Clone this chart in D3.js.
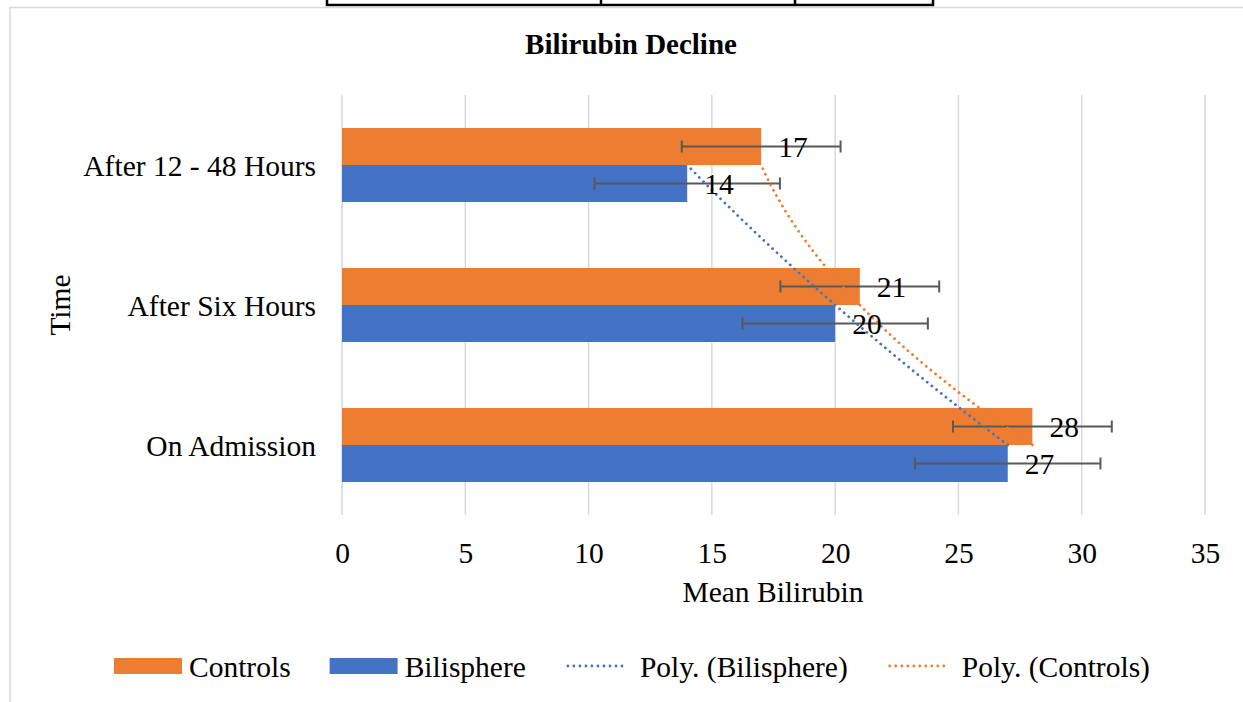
<!DOCTYPE html>
<html>
<head>
<meta charset="utf-8">
<script src="https://cdn.jsdelivr.net/npm/d3@7"></script>
<style>
  html, body { margin: 0; padding: 0; background: #fff; }
  svg { display: block; }
  text { font-family: "Liberation Serif", "Times New Roman", serif; fill: #000; }
</style>
</head>
<body>
<svg id="chart" width="1243" height="702"></svg>
<script>
// ---- data ----
const categories = ["On Admission", "After Six Hours", "After 12 - 48 Hours"];
const controls = [28, 21, 17];
const bilisphere = [27, 20, 14];
const controlsErr = [3.22, 3.22, 3.22];
const bilisphereErr = [3.76, 3.76, 3.76];
const xTicks = [0, 5, 10, 15, 20, 25, 30, 35];
const seriesNames = ["Controls", "Bilisphere"];
const legendLabels = ["Controls", "Bilisphere", "Poly. (Bilisphere)", "Poly. (Controls)"];
const title = "Bilirubin Decline";
const xTitle = "Mean Bilirubin";
const yTitle = "Time";

const colors = { Controls: "#ED7D31", Bilisphere: "#4472C4" };
const FS = 29.5;

const svg = d3.select("#chart");

// table fragment at top & chart border
const tbl = svg.append("g").attr("stroke", "#000").attr("stroke-width", 2.5).attr("fill", "none");
tbl.append("path").attr("d", "M327,0 V5 H933 V0 M601,0 V5 M795,0 V5");
const border = svg.append("g").attr("stroke", "#d9d9d9").attr("stroke-width", 1.5).attr("fill", "none");
border.append("path").attr("d", "M10,702 V7.5 H1243");

// scales
const x = d3.scaleLinear().domain([0, 35]).range([342, 1205]);
const yOrder = categories.slice().reverse(); // top to bottom
const y = d3.scaleBand().domain(yOrder).range([95, 515]).paddingInner(0).paddingOuter(0);
const barH = 37;

// gridlines
const grid = svg.append("g");
grid.selectAll("line").data(xTicks).join("line")
  .attr("x1", d => x(d)).attr("x2", d => x(d))
  .attr("y1", 95).attr("y2", 515)
  .attr("stroke", "#d9d9d9").attr("stroke-width", 1.5);

// x axis labels via d3 axis
const xAxis = svg.append("g").attr("transform", "translate(0,515)")
  .call(d3.axisBottom(x).tickValues(xTicks).tickSize(0).tickPadding(0));
xAxis.select(".domain").remove();
xAxis.selectAll("text").attr("font-size", FS).attr("font-family", "Liberation Serif")
  .attr("fill", "#000").attr("dy", null).attr("y", 48);

// y axis labels
const yAxis = svg.append("g").attr("transform", "translate(342,0)")
  .call(d3.axisLeft(y).tickSize(0).tickPadding(0));
yAxis.select(".domain").remove();
yAxis.selectAll("text").attr("font-size", FS).attr("font-family", "Liberation Serif")
  .attr("fill", "#000").attr("dy", null).attr("x", -26).attr("y", 10.5);

// bars
const rows = categories.map((c, i) => ({
  cat: c,
  vals: [
    { s: "Controls", v: controls[i], e: controlsErr[i], off: -barH },
    { s: "Bilisphere", v: bilisphere[i], e: bilisphereErr[i], off: 0 }
  ]
}));
const cy = c => y(c) + y.bandwidth() / 2;

const barG = svg.append("g");
rows.forEach(r => {
  r.vals.forEach(d => {
    barG.append("rect")
      .attr("x", x(0)).attr("y", cy(r.cat) + d.off)
      .attr("width", x(d.v) - x(0)).attr("height", barH)
      .attr("fill", colors[d.s]);
  });
});

// trendlines (order-2 polynomial fit vs category index)
function polyFit2(ts, vs) {
  let S = [0,0,0,0,0], T = [0,0,0];
  ts.forEach((t, i) => {
    for (let k = 0; k < 5; k++) S[k] += Math.pow(t, k);
    for (let k = 0; k < 3; k++) T[k] += vs[i] * Math.pow(t, k);
  });
  const A = [[S[0],S[1],S[2],T[0]],[S[1],S[2],S[3],T[1]],[S[2],S[3],S[4],T[2]]];
  for (let i = 0; i < 3; i++) {
    let p = i; for (let r = i+1; r < 3; r++) if (Math.abs(A[r][i]) > Math.abs(A[p][i])) p = r;
    [A[i], A[p]] = [A[p], A[i]];
    for (let r = 0; r < 3; r++) if (r !== i) {
      const f = A[r][i] / A[i][i];
      for (let c = i; c < 4; c++) A[r][c] -= f * A[i][c];
    }
  }
  return [A[0][3]/A[0][0], A[1][3]/A[1][1], A[2][3]/A[2][2]];
}
const idx = categories.map((c, i) => i + 1);
const yAt = t => cy(categories[0]) + (t - 1) * (cy(categories[1]) - cy(categories[0]));
function trend(vals, color) {
  const co = polyFit2(idx, vals);
  const pts = d3.range(1, 3.0001, 0.02).map(t => [x(co[0] + co[1]*t + co[2]*t*t), yAt(t)]);
  svg.append("path").attr("d", d3.line()(pts)).attr("fill", "none")
    .attr("stroke", color).attr("stroke-width", 2.8)
    .attr("stroke-linecap", "round").attr("stroke-dasharray", "0.01 6");
}

// error bars
const errG = svg.append("g").attr("stroke", "#595959").attr("stroke-width", 2).attr("fill", "none");
rows.forEach(r => {
  r.vals.forEach(d => {
    const yy = cy(r.cat) + d.off + barH / 2;
    const x1 = x(d.v - d.e), x2 = x(d.v + d.e);
    errG.append("line").attr("x1", x1).attr("x2", x2).attr("y1", yy).attr("y2", yy);
    errG.append("line").attr("x1", x1).attr("x2", x1).attr("y1", yy - 6).attr("y2", yy + 6);
    errG.append("line").attr("x1", x2).attr("x2", x2).attr("y1", yy - 6).attr("y2", yy + 6);
  });
});

trend(bilisphere, colors.Bilisphere);
trend(controls, colors.Controls);

// data labels
rows.forEach(r => {
  r.vals.forEach(d => {
    svg.append("text")
      .attr("x", x(d.v) + 17).attr("y", cy(r.cat) + d.off + barH / 2 + 10)
      .attr("font-size", FS).text(d.v);
  });
});

// titles
svg.append("text").attr("x", 631).attr("y", 54).attr("text-anchor", "middle")
  .attr("font-size", 29).attr("font-weight", "bold").text(title);
svg.append("text").attr("x", 773).attr("y", 602).attr("text-anchor", "middle")
  .attr("font-size", FS).text(xTitle);
svg.append("text").attr("transform", "translate(70,305) rotate(-90)").attr("text-anchor", "middle")
  .attr("font-size", FS).text(yTitle);

// legend
const lg = svg.append("g");
const ly = 666;
let lx = 114;
const items = [
  { label: legendLabels[0], type: "rect", color: colors.Controls },
  { label: legendLabels[1], type: "rect", color: colors.Bilisphere },
  { label: legendLabels[2], type: "line", color: colors.Bilisphere },
  { label: legendLabels[3], type: "line", color: colors.Controls }
];
items.forEach(it => {
  if (it.type === "rect") {
    lg.append("rect").attr("x", lx).attr("y", ly - 8).attr("width", 68).attr("height", 16).attr("fill", it.color);
  } else {
    lg.append("line").attr("x1", lx + 3).attr("x2", lx + 60).attr("y1", ly).attr("y2", ly)
      .attr("stroke", it.color).attr("stroke-width", 2.8).attr("stroke-linecap", "round")
      .attr("stroke-dasharray", "0.01 6");
  }
  const t = lg.append("text").attr("x", lx + 75).attr("y", ly + 10.5).attr("font-size", FS).text(it.label);
  lx = lx + 75 + t.node().getComputedTextLength() + 39;
});
</script>
</body>
</html>
